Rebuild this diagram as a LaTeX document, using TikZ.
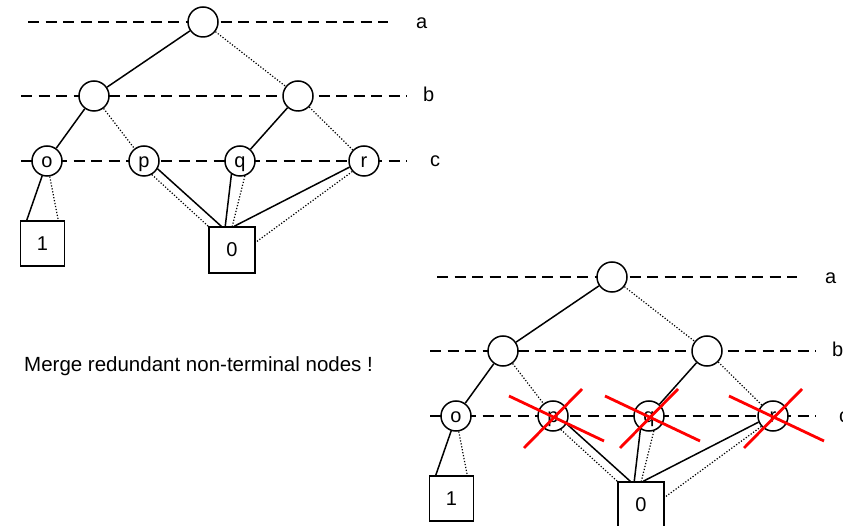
\documentclass[tikz,border=0pt]{standalone}
\usepackage{fontspec}
\setmainfont{Liberation Sans}
\usetikzlibrary{calc}
\tikzset{
  vnode/.style={circle, draw, line width=1.5pt, fill=white, minimum size=30pt, inner sep=0pt,
    font=\fontsize{20}{24}\selectfont, text height=14pt, text depth=1pt},
  tnode/.style={rectangle, draw, line width=1.5pt, fill=white, minimum width=44pt, minimum height=45pt,
    inner sep=0pt, font=\fontsize{20}{24}\selectfont},
  levelline/.style={line width=1.5pt, dash pattern=on 11pt off 6.5pt},
  hiedge/.style={line width=1.5pt},
  loedge/.style={line width=1.2pt, dash pattern=on 1.2pt off 1.8pt},
  lbl/.style={font=\fontsize{20}{24}\selectfont, inner sep=0pt, anchor=base west},
  redcross/.style={red, line width=2.8pt},
}
\newcommand{\bddpic}[3]{%
  \coordinate (#1aL) at (28+#2,22+#3);  \coordinate (#1aR) at (388+#2,22+#3);
  \coordinate (#1bL) at (21+#2,96+#3);  \coordinate (#1bR) at (407+#2,96+#3);
  \coordinate (#1cL) at (21+#2,161+#3); \coordinate (#1cR) at (407+#2,161+#3);
  \draw[levelline] (#1aL) -- (#1aR);
  \draw[levelline] (#1bL) -- (#1bR);
  \draw[levelline] (#1cL) -- (#1cR);
  \node[lbl] (#1la) at (416+#2,29+#3) {a};
  \node[lbl] (#1lb) at (423+#2,101.5+#3) {b};
  \node[lbl] (#1lc) at (430+#2,167+#3) {c};
  \node[vnode] (#1root) at (203+#2,22+#3) {};
  \node[vnode] (#1bl) at (94+#2,96+#3) {};
  \node[vnode] (#1br) at (298+#2,96+#3) {};
  \node[vnode] (#1o) at (47+#2,161+#3) {o};
  \node[vnode] (#1p) at (144+#2,161+#3) {p};
  \node[vnode] (#1q) at (240+#2,161+#3) {q};
  \node[vnode] (#1r) at (364+#2,161+#3) {r};
  \node[tnode] (#1one) at (42.5+#2,243.5+#3) {1};
  \node[tnode, minimum width=46pt, minimum height=46pt] (#1zero) at (232+#2,250+#3) {0};
  \draw[hiedge] (#1root) -- (#1bl);
  \draw[loedge] (#1root) -- (#1br);
  \draw[hiedge] (#1bl) -- (#1o);
  \draw[loedge] (#1bl) -- (#1p);
  \draw[hiedge] (#1br) -- (#1q);
  \draw[loedge] (#1br) -- (#1r);
  \draw[hiedge] (#1o.252) -- ($(#1one.north west)+(7,0)$);
  \draw[loedge] (#1o.280) -- ($(#1one.north east)+(-7,0)$);
  \draw[hiedge] (#1p.330) -- ($(#1zero.north west)+(13,0)$);
  \draw[loedge] (#1p.300) -- (#1zero.north west);
  \draw[hiedge] (#1q.237) -- ($(#1zero.north west)+(17,0)$);
  \draw[loedge] (#1q.288) -- ($(#1zero.north west)+(24,0)$);
  \draw[hiedge] (#1r.203) -- ($(#1zero.north west)+(26,0)$);
  \draw[loedge] (#1r.222) -- ($(#1zero.north east)+(0,16)$);
}
\begin{document}
\begin{tikzpicture}[x=1pt, y=-1pt]
  \useasboundingbox (0,0) rectangle (843,526);
  \fill[white] (0,0) rectangle (843,526);
  \clip (0,0) rectangle (843,526);
  \bddpic{T}{0}{0}
  \bddpic{B}{409}{255}
  \node[lbl] (msg) at (24,371) {\fontsize{20.5}{24}\selectfont Merge redundant non-terminal nodes !};
  \foreach \n in {Bp,Bq,Br} {
    \draw[redcross] ($(\n.center)+(-44,-20)$) -- ($(\n.center)+(51,25)$);
    \draw[redcross] ($(\n.center)+(-29,32)$) -- ($(\n.center)+(29,-27)$);
  }
\end{tikzpicture}
\end{document}
